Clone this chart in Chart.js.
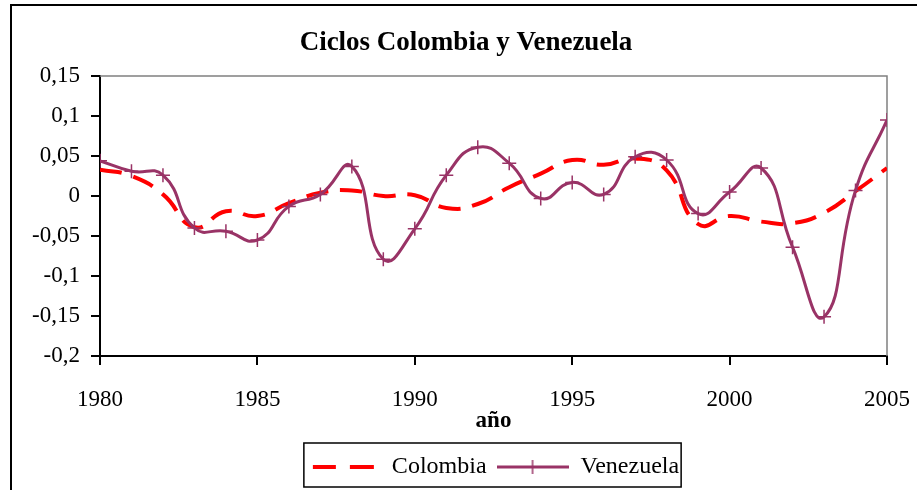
<!DOCTYPE html>
<html>
<head>
<meta charset="utf-8">
<script src="https://cdn.jsdelivr.net/npm/chart.js@4"></script>
<style>
  html, body { margin: 0; padding: 0; background: #fff; }
</style>
</head>
<body>
<canvas id="chart" width="917" height="490"></canvas>
<script>
// data
const years = [1980, 1981, 1982, 1983, 1984, 1985, 1986, 1987, 1988, 1989, 1990, 1991, 1992,
  1993, 1994, 1995, 1996, 1997, 1998, 1999, 2000, 2001, 2002, 2003, 2004, 2005];
const colombia = [0.033, 0.025, 0.002, -0.039, -0.019, -0.025, -0.009, 0.004, 0.007, 0.000, 0.001, -0.015, -0.010,
  0.011, 0.028, 0.045, 0.039, 0.047, 0.032, -0.035, -0.025, -0.032, -0.034, -0.021, 0.006, 0.035];
const venezuela = [0.044, 0.031, 0.026, -0.040, -0.044, -0.055, -0.013, 0.002, 0.037, -0.079, -0.041, 0.026, 0.061,
  0.041, -0.003, 0.017, 0.002, 0.049, 0.045, -0.022, 0.005, 0.035, -0.064, -0.151, 0.007, 0.095];
const seriesNames = ['Colombia', 'Venezuela'];
const yRange = [-0.2, 0.15];
const xRange = [1980, 2005];

const RED = '#FF0000';
const PURPLE = '#993366';
const FONT = 'Liberation Serif';

// little legend symbols
function sample(draw) {
  const c = document.createElement('canvas');
  c.width = 72;
  c.height = 16;
  draw(c.getContext('2d'));
  return c;
}
const colSample = sample((ctx) => {
  ctx.strokeStyle = RED;
  ctx.lineWidth = 4;
  ctx.beginPath();
  ctx.moveTo(5, 8); ctx.lineTo(28, 8);
  ctx.moveTo(42, 8); ctx.lineTo(66, 8);
  ctx.stroke();
});
const venSample = sample((ctx) => {
  ctx.strokeStyle = PURPLE;
  ctx.lineWidth = 3;
  ctx.beginPath();
  ctx.moveTo(0, 8); ctx.lineTo(72, 8);
  ctx.stroke();
  ctx.lineWidth = 1.5;
  ctx.beginPath();
  ctx.moveTo(36, 1); ctx.lineTo(36, 15);
  ctx.stroke();
});

const frames = {
  id: 'frames',
  afterLayout(chart) {
    // title sits a bit right of the canvas centre in the original
    const t = chart.titleBlock;
    t.left = 45;
    t.right = chart.chartArea.right;
    t.width = t.right - t.left;
  },
  beforeDatasetsDraw(chart) {
    const { ctx, chartArea: a } = chart;
    ctx.save();
    ctx.strokeStyle = '#808080';
    ctx.lineWidth = 1.5;
    ctx.beginPath();
    ctx.moveTo(a.left, a.top);
    ctx.lineTo(a.right, a.top);
    ctx.lineTo(a.right, a.bottom);
    ctx.stroke();
    ctx.restore();
  },
  afterDraw(chart) {
    const { ctx } = chart;
    ctx.save();
    ctx.strokeStyle = '#000';
    ctx.lineWidth = 2;
    ctx.strokeRect(11, 5, 2000, 2000);
    const hb = chart.legend.legendHitBoxes;
    if (hb && hb.length) {
      const last = hb[hb.length - 1];
      const left = hb[0].left - 4;
      const right = last.left + last.width + 2;
      const top = hb[0].top - 12;
      ctx.lineWidth = 1.5;
      ctx.strokeRect(left, top, right - left, 44);
    }
    ctx.restore();
  },
};

new Chart(document.getElementById('chart'), {
  type: 'line',
  data: {
    datasets: [
      {
        label: seriesNames[0],
        data: years.map((y, i) => ({ x: y, y: colombia[i] })),
        borderColor: RED,
        backgroundColor: RED,
        borderWidth: 4,
        borderDash: [22, 12],
        pointRadius: 0,
        tension: 0.5,
        order: 1,
      },
      {
        label: seriesNames[1],
        data: years.map((y, i) => ({ x: y, y: venezuela[i] })),
        borderColor: PURPLE,
        backgroundColor: PURPLE,
        borderWidth: 3,
        pointStyle: 'cross',
        pointRadius: 7,
        pointBorderWidth: 1.5,
        pointBorderColor: PURPLE,
        tension: 0.5,
        order: 0,
      },
    ],
  },
  options: {
    responsive: false,
    animation: false,
    layout: { padding: { left: 10, right: 30, top: 0, bottom: 1 } },
    plugins: {
      tooltip: { enabled: false },
      title: {
        display: true,
        text: 'Ciclos Colombia y Venezuela',
        color: '#000',
        font: { family: FONT, size: 27, weight: 'bold' },
        padding: { top: 26.5, bottom: 17.1 },
      },
      legend: {
        position: 'bottom',
        fullSize: false,
        labels: {
          color: '#000',
          font: { family: FONT, size: 24 },
          usePointStyle: true,
          pointStyleWidth: 72,
          padding: 10,
          generateLabels(chart) {
            const items = Chart.defaults.plugins.legend.labels.generateLabels(chart);
            items.sort((a, b) => a.datasetIndex - b.datasetIndex);
            items[0].pointStyle = colSample;
            items[1].pointStyle = venSample;
            return items;
          },
        },
      },
    },
    scales: {
      x: {
        type: 'linear',
        min: xRange[0],
        max: xRange[1],
        afterFit(scale) {
          scale.height = 89;
          scale.paddingLeft = 0;
          scale.paddingRight = 0;
        },
        ticks: {
          stepSize: 5,
          color: '#000',
          padding: 21,
          font: { family: FONT, size: 23 },
          callback: (v) => String(v),
        },
        grid: { drawOnChartArea: false, color: '#000', lineWidth: 2, tickLength: 9 },
        border: { color: '#000', width: 2 },
        title: {
          display: true,
          text: 'año',
          color: '#000',
          font: { family: FONT, size: 23, weight: 'bold' },
          padding: { top: 0, bottom: 10.5 },
        },
      },
      y: {
        min: yRange[0],
        max: yRange[1],
        afterFit(scale) { scale.width = 90; },
        ticks: {
          stepSize: 0.05,
          color: '#000',
          padding: 11,
          font: { family: FONT, size: 23 },
          callback: (v) => (Math.round(v * 100) / 100).toString().replace('.', ','),
        },
        grid: { drawOnChartArea: false, color: '#000', lineWidth: 2, tickLength: 9 },
        border: { color: '#000', width: 2 },
      },
    },
  },
  plugins: [frames],
});
</script>
</body>
</html>
